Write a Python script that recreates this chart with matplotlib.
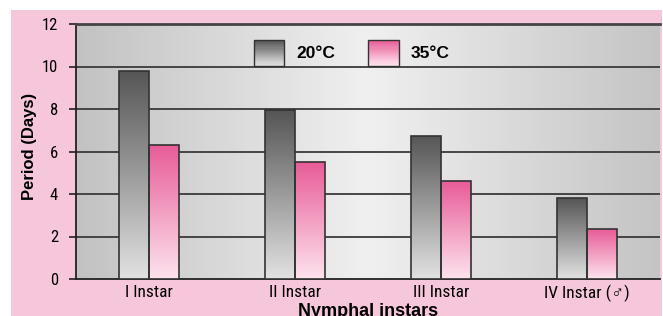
import numpy as np
import matplotlib
matplotlib.use("Agg")
import matplotlib.pyplot as plt
from matplotlib import font_manager
from matplotlib.patches import Rectangle
from matplotlib.legend_handler import HandlerBase
from matplotlib.colors import LinearSegmentedColormap, to_rgb

# prefer a narrow sans for the tick labels, like the reference, if one is installed
installed = {f.name for f in font_manager.fontManager.ttflist}
narrow_stretch = 'normal'
narrow = 'Liberation Sans'
for cand in ['Liberation Sans Narrow', 'Roboto Condensed', 'Open Sans Condensed',
             'Arial Narrow', 'DejaVu Sans Condensed']:
    if cand in installed:
        narrow = cand
        break
else:
    cond = [f for f in font_manager.fontManager.ttflist
            if f.stretch in ('condensed', 'semi-condensed')
            and f.name in ('DejaVu Sans', 'Roboto', 'Open Sans', 'Noto Sans', 'Inter')]
    if cond:
        narrow = cond[0].name
        narrow_stretch = 'condensed'

plt.rcParams['font.family'] = ['Liberation Sans', 'DejaVu Sans']
tick_font = dict(family=[narrow, 'Liberation Sans', 'DejaVu Sans'], stretch=narrow_stretch)

# data
instars = ['I Instar', 'II Instar', 'III Instar', 'IV Instar (\u2642)']
series = ['20\u00b0C', '35\u00b0C']
period_20 = [9.8, 7.95, 6.75, 3.8]
period_35 = [6.3, 5.5, 4.6, 2.35]

pink_bg = '#f6c6da'
gray_top, gray_bottom = '#555555', '#e2e2e2'
pink_top, pink_bottom = '#e85c97', '#fde3ee'
edge = '#333333'


class GradientHandler(HandlerBase):
    def __init__(self, top, bottom):
        super().__init__()
        self.top = np.array(to_rgb(top))
        self.bottom = np.array(to_rgb(bottom))

    def create_artists(self, legend, orig_handle, xdescent, ydescent,
                       width, height, fontsize, trans):
        arts = []
        n = 24
        for i in range(n):
            t = i / (n - 1)
            c = self.bottom * (1 - t) + self.top * t
            arts.append(Rectangle((-xdescent, -ydescent + height * i / n), width,
                                  height / n * 1.05, facecolor=c, edgecolor='none',
                                  transform=trans))
        arts.append(Rectangle((-xdescent, -ydescent), width, height, fill=False,
                              edgecolor=edge, lw=1.0, transform=trans))
        return arts


def gradient_bars(ax, x, heights, width, top, bottom):
    cmap = LinearSegmentedColormap.from_list('g', [bottom, top])
    grad = np.linspace(0, 1, 256).reshape(-1, 1)
    bars = ax.bar(x, heights, width, facecolor='none', edgecolor=edge, lw=1.2, zorder=4)
    for b in bars:
        bx, by = b.get_x(), b.get_y()
        w, h = b.get_width(), b.get_height()
        im = ax.imshow(grad, cmap=cmap, origin='lower', aspect='auto',
                       extent=[bx, bx + w, by, by + h], zorder=3)
        im.set_clip_path(b)
    return bars


fig = plt.figure(figsize=(6.63, 3.16), dpi=100)
fig.patches.append(Rectangle((11 / 663, 0), 651 / 663, 306 / 316, facecolor=pink_bg,
                             edgecolor='none', transform=fig.transFigure, zorder=-10))
ax = fig.add_axes([76 / 663, 37 / 316, 584 / 663, 255 / 316])
ax.patch.set_visible(False)

# plot background: horizontal gray gradient, lighter in the middle
bg_cmap = LinearSegmentedColormap.from_list('bg', ['#c2c2c2', '#f0f0f0', '#c4c4c4'])
ax.imshow(np.linspace(0, 1, 512).reshape(1, -1), cmap=bg_cmap, aspect='auto',
          extent=[-0.5, 3.5, 0, 12], zorder=0)

x = np.arange(len(instars))
w = 0.205
gradient_bars(ax, x - w / 2, period_20, w, gray_top, gray_bottom)
gradient_bars(ax, x + w / 2, period_35, w, pink_top, pink_bottom)

ax.set_xlim(-0.5, 3.5)
ax.set_ylim(0, 12)
ax.set_yticks(range(0, 13, 2))
for yv in range(2, 12, 2):
    ax.axhline(yv, color='#3a3a3a', lw=1.3, zorder=1)

ax.set_xticks(x)
ax.set_xticklabels(instars, fontsize=12.5, **tick_font)
ax.set_yticklabels([str(v) for v in range(0, 13, 2)], fontsize=12, **tick_font)
ax.tick_params(axis='x', length=0, pad=4)
ax.tick_params(axis='y', length=5, width=1.2, pad=8, color='#222222')

for s in ['left', 'bottom', 'top']:
    ax.spines[s].set_color('#222222')
    ax.spines[s].set_linewidth(1.3)
ax.spines['top'].set_linewidth(2)
ax.spines['top'].set_color('#444444')
ax.spines['right'].set_visible(False)

ax.set_ylabel('Period (Days)', fontsize=12, fontweight='bold')
ax.yaxis.set_label_coords(-0.066, 0.52)
ax.set_xlabel('Nymphal instars', fontsize=13, fontweight='bold')
ax.xaxis.set_label_coords(0.5, -0.094)

handles = [Rectangle((0, 0), 1, 1), Rectangle((0, 1), 1, 1)]
leg = ax.legend(handles, series, loc='upper center', bbox_to_anchor=(0.472, 0.985),
                ncol=2, frameon=False, prop={'weight': 'bold', 'size': 12.5},
                handlelength=1.75, handleheight=1.9, handletextpad=0.7,
                columnspacing=1.9, borderpad=0.2,
                handler_map={handles[0]: GradientHandler(gray_top, gray_bottom),
                             handles[1]: GradientHandler(pink_top, pink_bottom)})

fig.savefig('out.png', dpi=100, facecolor='white')
